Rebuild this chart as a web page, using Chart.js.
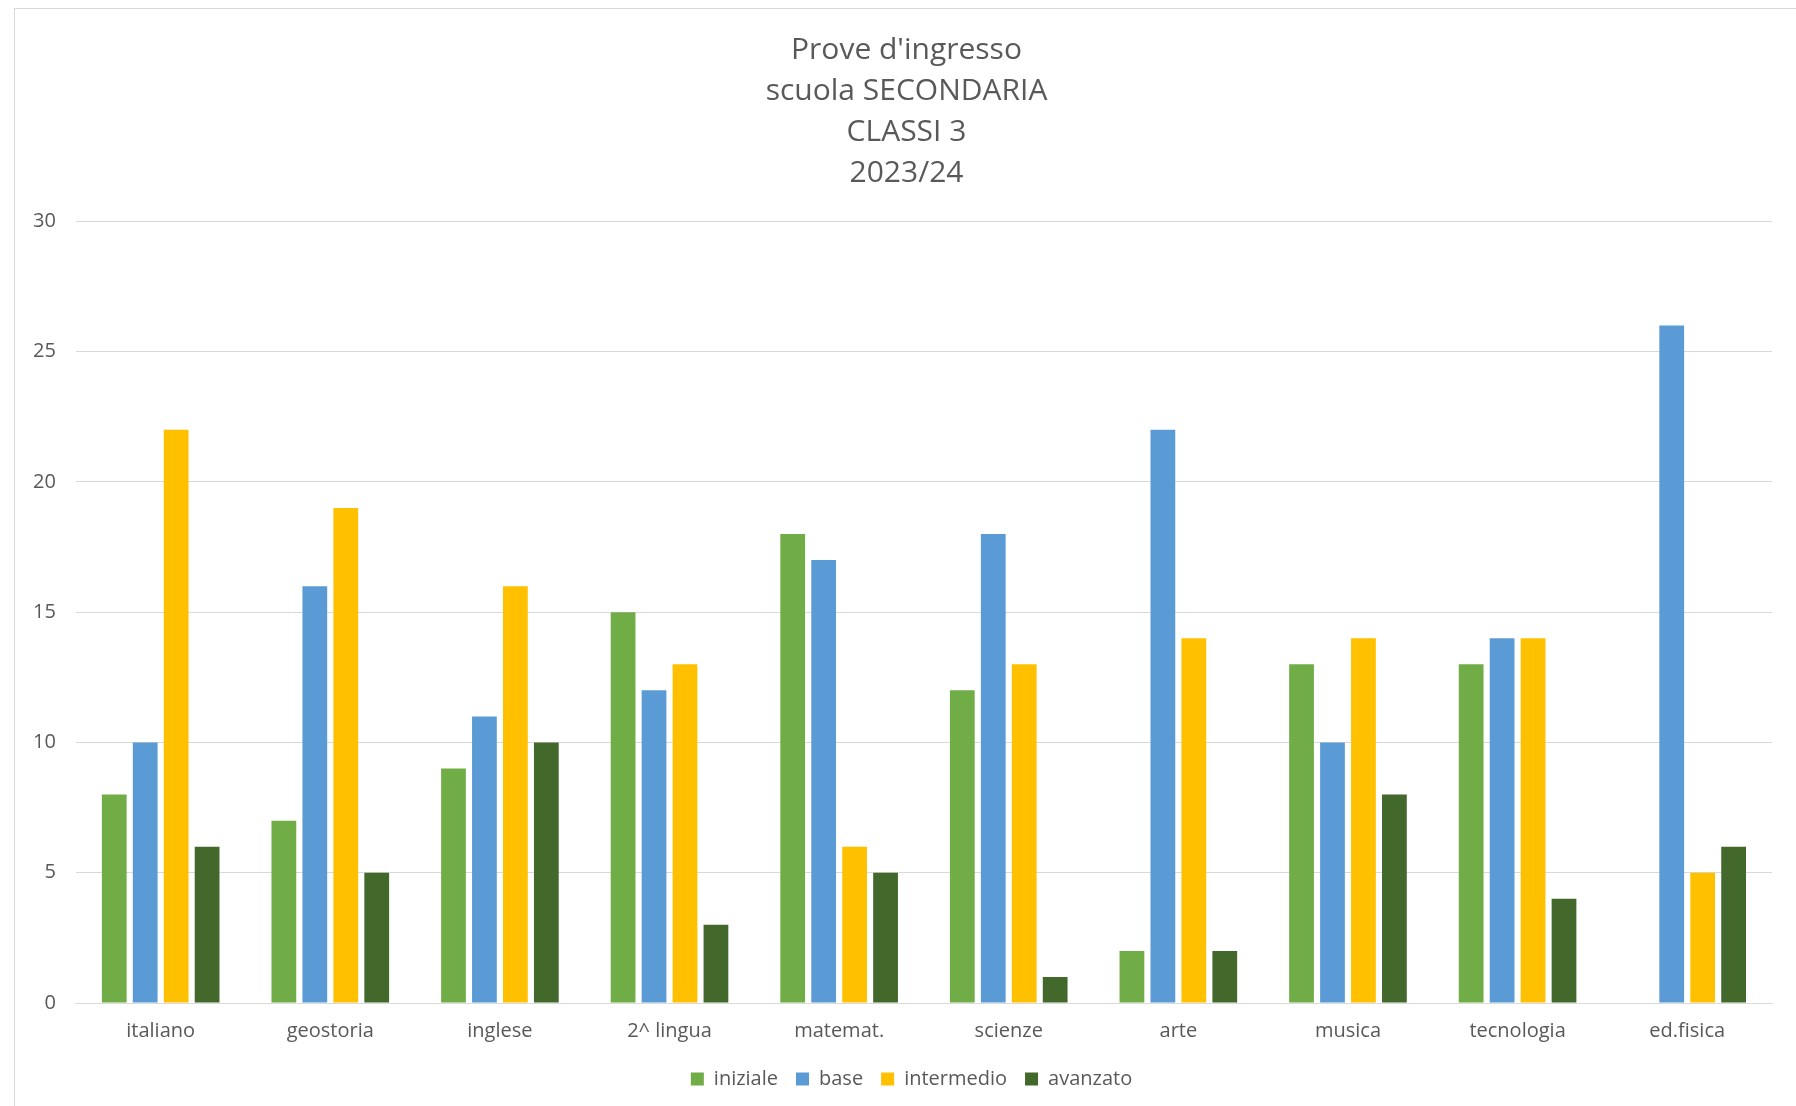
<!DOCTYPE html>
<html>
<head>
<meta charset="utf-8">
<script src="https://cdn.jsdelivr.net/npm/chart.js@4"></script>
<style>
  body { margin: 0; background: #fff; overflow: hidden; }
  #frame { position: absolute; left: 14px; top: 8px; width: 1800px; height: 1120px; border: 1px solid #d9d9d9; }
  #wrap { position: absolute; left: 0; top: 0; width: 1796px; height: 1106px; }
</style>
</head>
<body>
<div id="frame"></div>
<div id="wrap"><canvas id="mycanvas"></canvas></div>
<script>
var materie = ['italiano', 'geostoria', 'inglese', '2^ lingua', 'matemat.', 'scienze', 'arte', 'musica', 'tecnologia', 'ed.fisica'];
var iniziale = [8, 7, 9, 15, 18, 12, 2, 13, 13, 0];
var base = [10, 16, 11, 12, 17, 18, 22, 10, 14, 26];
var intermedio = [22, 19, 16, 13, 6, 13, 14, 14, 14, 5];
var avanzato = [6, 5, 10, 3, 5, 1, 2, 8, 4, 6];

var grey = '#595959';
Chart.defaults.font.family = "'Open Sans', sans-serif";
Chart.defaults.color = grey;

var chartdata = {
  labels: materie,
  datasets: [
    { label: 'iniziale', backgroundColor: '#70ad47', data: iniziale },
    { label: 'base', backgroundColor: '#5b9bd5', data: base },
    { label: 'intermedio', backgroundColor: '#ffc000', data: intermedio },
    { label: 'avanzato', backgroundColor: '#43682b', data: avanzato }
  ]
};

// title and legend are centred on the whole chart box, not on the plot
var shiftBlocks = {
  id: 'shiftBlocks',
  afterLayout: function(chart) {
    chart.titleBlock.left += 14;
    chart.titleBlock.right += 14;
    chart.legend.left += 19;
    chart.legend.right += 19;
  }
};

var ctx = document.getElementById('mycanvas');
var barGraph = new Chart(ctx, {
  type: 'bar',
  data: chartdata,
  plugins: [shiftBlocks],
  options: {
    responsive: true,
    maintainAspectRatio: false,
    animation: false,
    datasets: { bar: { categoryPercentage: 0.73, barPercentage: 0.8 } },
    layout: { padding: { left: 13, right: 24, top: 0, bottom: 7 } },
    plugins: {
      title: {
        display: true,
        text: ["Prove d'ingresso", 'scuola SECONDARIA', 'CLASSI 3', '2023/24'],
        font: { size: 30, weight: 'normal', lineHeight: 1.37 },
        color: grey,
        padding: { top: 30, bottom: 27 }
      },
      legend: {
        position: 'bottom',
        labels: { boxWidth: 13, boxHeight: 13, padding: 18, font: { size: 20 }, color: grey }
      },
      tooltip: { enabled: false }
    },
    scales: {
      x: {
        grid: { display: false },
        border: { color: '#d9d9d9' },
        ticks: { font: { size: 20 }, color: grey, padding: 8 }
      },
      y: {
        min: 0,
        max: 30,
        ticks: { stepSize: 5, font: { size: 20 }, color: grey, padding: 20 },
        grid: { color: '#d9d9d9', drawTicks: false },
        border: { display: false }
      }
    }
  }
});
</script>
</body>
</html>
